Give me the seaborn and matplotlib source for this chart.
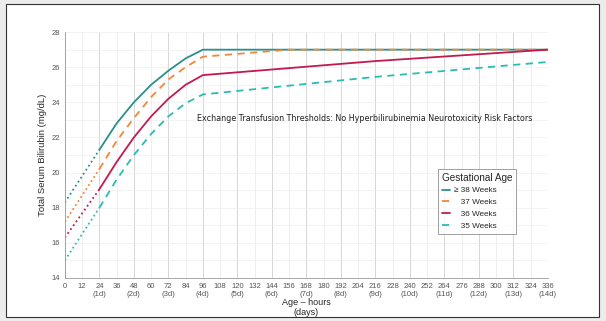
import pandas as pd
import matplotlib.pyplot as plt
import seaborn as sns
from matplotlib.patches import Rectangle
from matplotlib.ticker import MultipleLocator

# thresholds (hours -> mg/dL)
hours_ext = [0, 24]
hours_main = [24, 36, 48, 60, 72, 84, 96]

ga38_ext = [18.3, 21.3]
ga38_main = [21.3, 22.8, 24.0, 25.0, 25.8, 26.5, 27.0]
ga38_tail_h = [96, 336]
ga38_tail = [27.0, 27.0]

ga37_ext = [17.2, 20.2]
ga37_main = [20.2, 21.8, 23.1, 24.3, 25.3, 26.0, 26.6]
ga37_tail_h = [96, 156, 336]
ga37_tail = [26.6, 27.0, 27.0]

ga36_ext = [16.3, 19.05]
ga36_main = [19.05, 20.6, 22.0, 23.2, 24.2, 25.0, 25.55]
ga36_tail_h = [96, 216, 336]
ga36_tail = [25.55, 26.35, 27.0]

ga35_ext = [15.0, 18.0]
ga35_main = [18.0, 19.6, 21.0, 22.2, 23.2, 23.95, 24.45]
ga35_tail_h = [96, 216, 336]
ga35_tail = [24.45, 25.45, 26.3]

labels = ["\u2265 38 Weeks", "   37 Weeks", "   36 Weeks", "   35 Weeks"]
colors = ["#2b8f8c", "#f0883a", "#c21a4e", "#28bdb3"]
styles = ["-", "--", "-", "--"]

series = [
    (ga38_ext, ga38_main, ga38_tail_h, ga38_tail),
    (ga37_ext, ga37_main, ga37_tail_h, ga37_tail),
    (ga36_ext, ga36_main, ga36_tail_h, ga36_tail),
    (ga35_ext, ga35_main, ga35_tail_h, ga35_tail),
]

sns.set_style("white")
plt.rcParams['font.family'] = ['Liberation Sans', 'DejaVu Sans']

fig = plt.figure(figsize=(6.06, 3.21), dpi=100, facecolor="#ececec")
fig.patches.append(Rectangle((0.01, 0.012), 0.978, 0.976, transform=fig.transFigure,
                             facecolor="white", edgecolor="#333333", lw=0.8, zorder=-1))
ax = fig.add_axes([0.107, 0.134, 0.797, 0.766])
ax.set_facecolor("white")

for (ext, main, tail_h, tail), lab, c, ls in zip(series, labels, colors, styles):
    d_ext = pd.DataFrame({"h": hours_ext, "v": ext})
    d_main = pd.DataFrame({"h": hours_main + tail_h[1:], "v": main + tail[1:]})
    sns.lineplot(data=d_ext, x="h", y="v", ax=ax, color=c, linestyle=":", lw=1.3)
    sns.lineplot(data=d_main, x="h", y="v", ax=ax, color=c, linestyle=ls, lw=1.3,
                 label=lab)
    if ls == "--":
        ax.lines[-1].set_dashes([4, 3])

ax.set_xlim(0, 336)
ax.set_ylim(14, 28)
xt = list(range(0, 337, 12))
xlabels = [f"{h}\n({h // 24}d)" if h % 24 == 0 and h > 0 else str(h) for h in xt]
ax.set_xticks(xt)
ax.set_xticklabels(xlabels, linespacing=1.15)
ax.set_yticks(range(14, 29, 2))
ax.yaxis.set_minor_locator(MultipleLocator(1))
ax.tick_params(axis="both", labelsize=5.5, colors="#555555", length=2, width=0.5, pad=1.5)
ax.tick_params(axis="y", which="minor", length=0)

for h in xt:
    ax.axvline(h, color="#d0d0d0" if h % 24 == 0 else "#ebebeb", lw=0.6, zorder=0)
for v in range(14, 29):
    ax.axhline(v, color="#efefef", lw=0.5, zorder=0)

for s in ["top", "right"]:
    ax.spines[s].set_visible(False)
for s in ["left", "bottom"]:
    ax.spines[s].set_color("#999999")
    ax.spines[s].set_linewidth(0.6)

ax.set_xlabel("Age \u2013 hours\n(days)", fontsize=6.5, labelpad=0.5, linespacing=1.1)
ax.set_ylabel("Total Serum Bilirubin (mg/dL)", fontsize=6.8, labelpad=3)

ax.text(92, 23.1, "Exchange Transfusion Thresholds: No Hyperbilirubinemia Neurotoxicity Risk Factors",
        fontsize=5.8, family=["Liberation Sans Narrow", "DejaVu Sans"], color="#222222", va="center")

leg = ax.legend(title="Gestational Age", loc="upper left", bbox_to_anchor=(0.764, 0.46),
                fontsize=5.9, title_fontsize=7.2, frameon=True, fancybox=False,
                handlelength=1.0, handletextpad=0.5, borderpad=0.45, labelspacing=0.5,
                edgecolor="#888888", alignment="left")
leg.get_frame().set_linewidth(0.7)

fig.savefig("out.png", dpi=100, facecolor=fig.get_facecolor())
